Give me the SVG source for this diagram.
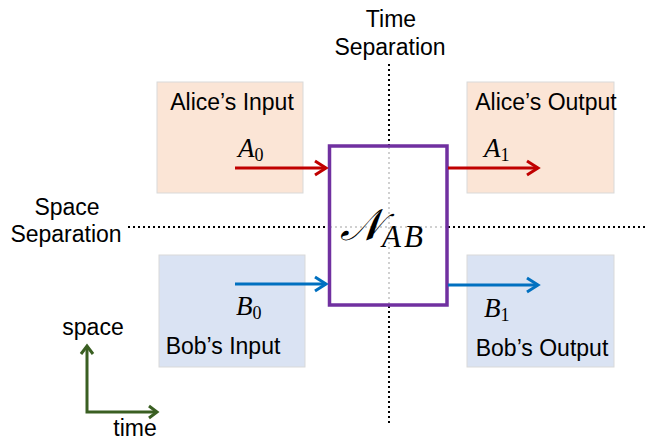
<svg xmlns="http://www.w3.org/2000/svg" width="657" height="441" viewBox="0 0 657 441">
<style>
.lbl{font-family:"Liberation Sans",Arial,sans-serif;font-size:23px;fill:#000}
.math{font-family:"Liberation Serif","Times New Roman",serif;font-style:italic;fill:#000}
.sub{font-family:"Liberation Serif","Times New Roman",serif;font-style:normal}
.alice{fill:#FBE5D6;stroke:#D9D9D9;stroke-width:1}
.bob{fill:#DAE3F3;stroke:#D9D9D9;stroke-width:1}
.dot{stroke:#000;stroke-width:2;stroke-dasharray:2 3;fill:none}
.dotin{stroke:#D0D0D0;stroke-width:2;stroke-dasharray:2 3;fill:none}
.red{stroke:#C00000;stroke-width:3;fill:none}
.blue{stroke:#0070C0;stroke-width:3;fill:none}
.green{stroke:#3A5F22;stroke-width:3;fill:none}
</style>
<g id="alice-input">
<rect class="alice" x="157" y="82" width="146" height="111"/>
<text class="lbl" x="232" y="110" text-anchor="middle">Alice’s Input</text>
</g>
<g id="alice-output">
<rect class="alice" x="467" y="82" width="147" height="111"/>
<text class="lbl" x="546" y="110" text-anchor="middle">Alice’s Output</text>
</g>
<g id="bob-input">
<rect class="bob" x="159" y="255" width="146" height="112"/>
<text class="lbl" x="223" y="354" text-anchor="middle">Bob’s Input</text>
</g>
<g id="bob-output">
<rect class="bob" x="467" y="255" width="147" height="112"/>
<text class="lbl" x="542" y="356" text-anchor="middle">Bob’s Output</text>
</g>
<g id="separators">
<line class="dot" x1="389" y1="64" x2="389" y2="145"/>
<line class="dot" x1="389" y1="306" x2="389" y2="425"/>
<line class="dot" x1="128" y1="227" x2="328" y2="227"/>
<line class="dot" x1="448" y1="227" x2="645" y2="227"/>
<line class="dotin" x1="389" y1="147" x2="389" y2="304"/>
<line class="dotin" x1="330" y1="227" x2="446" y2="227"/>
<text class="lbl" x="391" y="27" text-anchor="middle">Time</text>
<text class="lbl" x="390" y="55" text-anchor="middle">Separation</text>
<text class="lbl" x="67" y="215" text-anchor="middle">Space</text>
<text class="lbl" x="66" y="242" text-anchor="middle">Separation</text>
</g>
<g id="channel">
<rect x="329.5" y="146" width="117.5" height="159" fill="none" stroke="#7030A0" stroke-width="3.5"/>
<text class="math" x="340" y="240" font-size="44">𝒩<tspan font-size="31" dy="7" letter-spacing="3">AB</tspan></text>
</g>
<g id="connectors">
<line class="red" x1="235" y1="168" x2="326" y2="168"/>
<polyline class="red" points="315,161 326,168 315,175"/>
<line class="red" x1="448" y1="168" x2="538" y2="168"/>
<polyline class="red" points="527,161 538,168 527,175"/>
<line class="blue" x1="235" y1="284" x2="326" y2="284"/>
<polyline class="blue" points="315,277 326,284 315,291"/>
<line class="blue" x1="448" y1="285" x2="538" y2="285"/>
<polyline class="blue" points="527,278 538,285 527,292"/>
<polyline class="green" points="87,347 87,412 157,412"/>
<polyline class="green" points="81,354 87,346 93,354"/>
<polyline class="green" points="149,406 157,412 149,418"/>
</g>
<g id="labels">
<text class="math" x="238" y="157" font-size="27">A<tspan class="sub" font-size="18" dy="4">0</tspan></text>
<text class="math" x="484" y="157" font-size="27">A<tspan class="sub" font-size="18" dy="4">1</tspan></text>
<text class="math" x="236" y="315" font-size="27">B<tspan class="sub" font-size="18" dy="4">0</tspan></text>
<text class="math" x="484" y="317" font-size="27">B<tspan class="sub" font-size="18" dy="4">1</tspan></text>
<text class="lbl" x="93" y="335" text-anchor="middle">space</text>
<text class="lbl" x="135" y="436" text-anchor="middle">time</text>
</g>
</svg>
